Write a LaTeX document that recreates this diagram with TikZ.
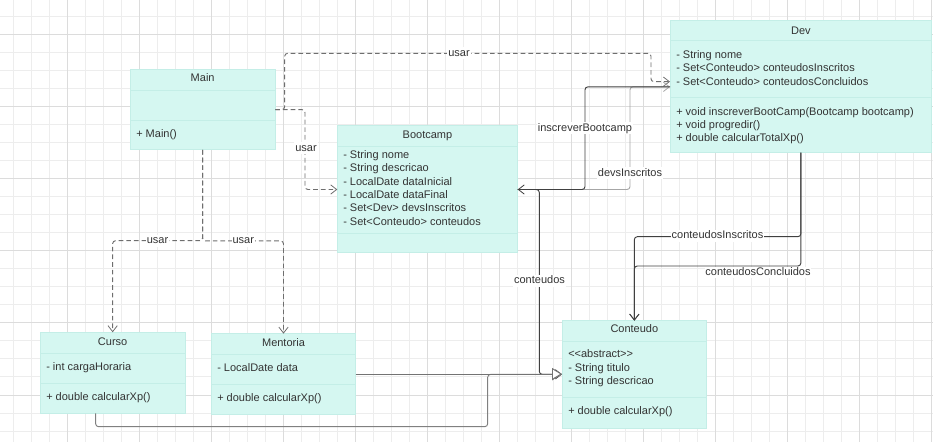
\documentclass[tikz,border=0pt]{standalone}
\usepackage{fontspec}
\newfontfamily\umlfont{Liberation Sans}
\usetikzlibrary{arrows.meta,calc}

\definecolor{mint}{HTML}{D5F7F1}
\definecolor{mintedge}{HTML}{C4EEE7}
\definecolor{ink}{HTML}{333333}
\definecolor{gridA}{HTML}{EDEDED}
\definecolor{gridB}{HTML}{DCDCDC}
\definecolor{wire}{HTML}{404040}
\definecolor{dashwire}{HTML}{6E6E6E}

\tikzset{
  umlbox/.style n args={2}{draw=mintedge, fill=mint, line width=0.75pt,
    inner sep=0pt, outer sep=0pt, anchor=north west,
    minimum width=#1*0.75pt, minimum height=#2*0.75pt},
  sepline/.style={draw=mintedge, line width=0.75pt},
  txt/.style={font=\umlfont\fontsize{8.25}{10}\selectfont, text=ink,
    inner sep=0pt, anchor=base west},
  ttl/.style={txt, anchor=base},
  lbl/.style={font=\umlfont\fontsize{8.25}{10}\selectfont, text=ink,
    fill=white, inner sep=0.8pt, text height=6pt, text depth=1.5pt},
  dep/.style={draw=dashwire, line width=0.7pt, dash pattern=on 3.5pt off 2.25pt,
    rounded corners=2.2pt, -{Straight Barb[length=4.5pt,width=7pt,line width=0.6pt]}},
  assoc/.style={draw=wire, line width=0.7pt, rounded corners=2.2pt,
    -{Straight Barb[length=4.5pt,width=7pt,line width=0.6pt]}},
  inherit/.style={draw=wire, line width=0.7pt, rounded corners=2.2pt,
    -{Triangle[length=7.5pt,width=9pt,fill=white]}},
  gridfine/.style={draw=gridA, line width=0.75pt},
  gridbold/.style={draw=gridB, line width=0.75pt},
}

\begin{document}
\begin{tikzpicture}[x=0.75pt,y=-0.75pt]
\useasboundingbox (0,0) rectangle (933,442);

% background grid
\foreach \gx in {13.5,31.5,...,931.5} \draw[gridfine] (\gx,0) -- (\gx,442);
\foreach \gy in {17,35,...,441} \draw[gridfine] (0,\gy) -- (933,\gy);
\foreach \gx in {67.5,139.5,...,931.5} \draw[gridbold] (\gx,0) -- (\gx,442);
\foreach \gy in {35,107,...,441} \draw[gridbold] (0,\gy) -- (933,\gy);

% ---------- classes ----------
% Main
\node[umlbox={145.3}{80.7}] (main) at (130,69.3) {};
\draw[sepline] (130,90.7) -- (275.3,90.7);
\draw[sepline] (130,120.3) -- (275.3,120.3);
\node[ttl] (main-t) at (202.65,81.8) {Main};
\node[txt] (main-m1) at (136,137.8) {+ Main()};

% Bootcamp
\node[umlbox={180.4}{127}] (bootcamp) at (337.3,126) {};
\draw[sepline] (337.3,146.7) -- (517.7,146.7);
\draw[sepline] (337.3,233.3) -- (517.7,233.3);
\node[ttl] (bootcamp-t) at (427.5,138.5) {Bootcamp};
\foreach \t [count=\i] in {{- String nome},{- String descricao},{- LocalDate dataInicial},
  {- LocalDate dataFinal},{- Set<Dev> devsInscritos},{- Set<Conteudo> conteudos}}
  \node[txt] (bootcamp-a\i) at (343,{158.5+13.33*(\i-1)}) {\t};

% Dev
\node[umlbox={261.7}{131.7}] (dev) at (670,21) {};
\draw[sepline] (670,41) -- (931.7,41);
\draw[sepline] (670,97.3) -- (931.7,97.3);
\node[ttl] (dev-t) at (800.85,34.2) {Dev};
\foreach \t [count=\i] in {{- String nome},{- Set<Conteudo> conteudosInscritos},
  {- Set<Conteudo> conteudosConcluidos}}
  \node[txt] (dev-a\i) at (676,{58.5+13.33*(\i-1)}) {\t};
\foreach \t [count=\i] in {{+ void inscreverBootCamp(Bootcamp bootcamp)},
  {+ void progredir()},{+ double calcularTotalXp()}}
  \node[txt] (dev-m\i) at (676,{115.2+13.33*(\i-1)}) {\t};

% Curso
\node[umlbox={145.3}{81}] (curso) at (40,332.3) {};
\draw[sepline] (40,353.3) -- (185.3,353.3);
\draw[sepline] (40,383.7) -- (185.3,383.7);
\node[ttl] (curso-t) at (112.65,345.2) {Curso};
\node[txt] (curso-a1) at (46,370.8) {- int cargaHoraria};
\node[txt] (curso-m1) at (46,400.8) {+ double calcularXp()};

% Mentoria
\node[umlbox={144.4}{80.6}] (mentoria) at (211.3,333.7) {};
\draw[sepline] (211.3,354.3) -- (355.7,354.3);
\draw[sepline] (211.3,384.3) -- (355.7,384.3);
\node[ttl] (mentoria-t) at (283.5,346.5) {Mentoria};
\node[txt] (mentoria-a1) at (217,371.8) {- LocalDate data};
\node[txt] (mentoria-m1) at (217,401.8) {+ double calcularXp()};

% Conteudo
\node[umlbox={144.7}{107.3}] (conteudo) at (562,320.7) {};
\draw[sepline] (562,341.7) -- (706.7,341.7);
\draw[sepline] (562,397.3) -- (706.7,397.3);
\node[ttl] (conteudo-t) at (634.35,332.8) {Conteudo};
\foreach \t [count=\i] in {{<<abstract>>},{- String titulo},{- String descricao}}
  \node[txt] (conteudo-a\i) at (568,{357.8+13.33*(\i-1)}) {\t};
\node[txt] (conteudo-m1) at (568,414.2) {+ double calcularXp()};

% ---------- relations ----------
% Main uses Dev, Bootcamp, Curso, Mentoria
\draw[dep] (main.east) -- ++(9.4,0) |- (651,53.3) |- ($(dev.west)+(0,-5.2)$);
\draw[dep] (main.east) -| ($(bootcamp.west)+(-32.3,0)$) -- (bootcamp.west);
\draw[dep] (main.south) |- ($(curso.north)+(0,-91.6)$) -- (curso.north);
\draw[dep] (main.south) |- ($(mentoria.north)+(0,-92.8)$) -- (mentoria.north);

% Dev <-> Bootcamp
\draw[assoc, draw=gray!70] (bootcamp.east) -| ($(dev.west)+(-40,0)$) -- (dev.west);
\draw[assoc] (dev.west) -| ($(bootcamp.east)+(67.3,0)$) -- (bootcamp.east);

% Bootcamp -> Conteudo
\draw[assoc] (bootcamp.east) -| ($(conteudo.west)+(-22.7,0)$) -- (conteudo.west);

% Dev -> Conteudo
\draw[assoc] (dev.south) |- ($(conteudo.north)+(0,-84)$) -- (conteudo.north);
\draw[assoc] (dev.south) |- ($(conteudo.north)+(0,-54.7)$) -- (conteudo.north);

% Curso, Mentoria extend Conteudo
\draw[inherit, draw=gray] ($(curso.south)+(-17,0)$) |- (487.7,426.7) |- (conteudo.west);
\draw[inherit, draw=gray!90!black] (mentoria.east) -- (mentoria.east -| conteudo.west);

% ---------- labels ----------
\node[lbl] (l-usar-dev) at (459,53.3) {usar};
\node[lbl] (l-usar-bc) at (306,148.3) {usar};
\node[lbl] (l-usar-curso) at (157.5,241) {usar};
\node[lbl] (l-usar-ment) at (243.3,241) {usar};
\node[lbl] (l-inscrever) at (585,128.3) {inscreverBootcamp};
\node[lbl] (l-devs) at (630,173.3) {devsInscritos};
\node[lbl] (l-conteudos) at (539.5,280.7) {conteudos};
\node[lbl] (l-inscritos) at (717.5,235.7) {conteudosInscritos};
\node[lbl, inner sep=0.2pt] (l-concluidos) at (758,272.3) {conteudosConcluidos};
\end{tikzpicture}
\end{document}
